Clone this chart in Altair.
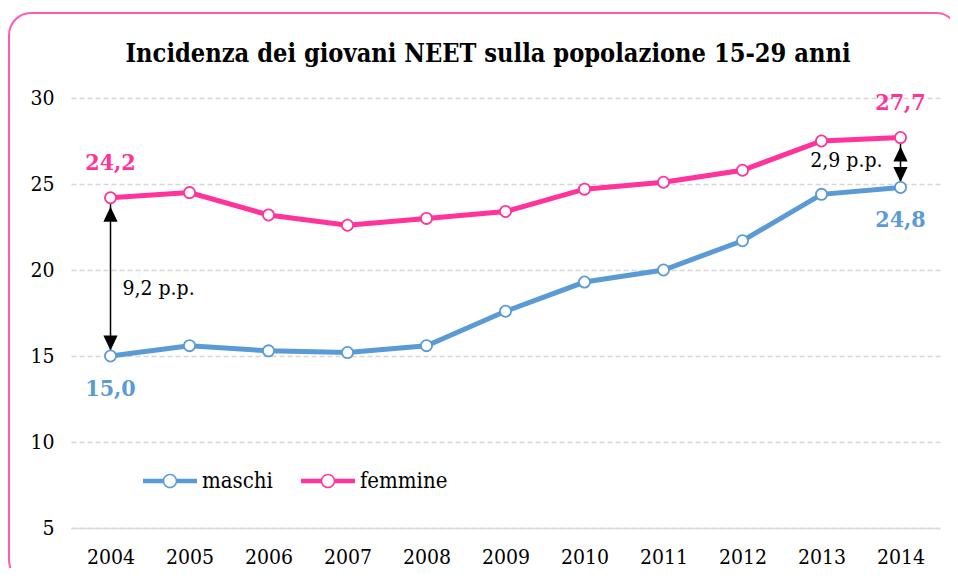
import altair as alt
import pandas as pd

years = [2004, 2005, 2006, 2007, 2008, 2009, 2010, 2011, 2012, 2013, 2014]
maschi = [15.0, 15.6, 15.3, 15.2, 15.6, 17.6, 19.3, 20.0, 21.7, 24.4, 24.8]
femmine = [24.2, 24.5, 23.2, 22.6, 23.0, 23.4, 24.7, 25.1, 25.8, 27.5, 27.7]
series_names = ["maschi", "femmine"]
series_colors = ["#5B9BD5", "#FF3399"]
y_ticks = [5, 10, 15, 20, 25, 30]
title_text = "Incidenza dei giovani NEET sulla popolazione 15-29 anni"

FONT = "DejaVu Serif Condensed, DejaVu Serif, serif"


def fmt(v):
    return f"{v:.1f}".replace(".", ",")


rows = []
for name, vals in zip(series_names, [maschi, femmine]):
    for yr, v in zip(years, vals):
        rows.append({"anno": str(yr), "serie": name, "valore": v, "etichetta": fmt(v)})
df = pd.DataFrame(rows)
ends = df[df["anno"].isin([str(years[0]), str(years[-1])])]

gap_rows = []
for i in [0, len(years) - 1]:
    f, m = femmine[i], maschi[i]
    gap_rows.append({"anno": str(years[i]), "alto": f, "basso": m,
                     "medio": (f + m) / 2, "testo": fmt(f - m) + " p.p."})
gaps = pd.DataFrame(gap_rows)

x_domain = [str(y) for y in years]
x_scale = alt.Scale(type="point", domain=x_domain, padding=0.5)
y_scale = alt.Scale(domain=[5, 30], nice=False, zero=False)
x_axis = alt.Axis(title=None, labelAngle=0, ticks=False, grid=False,
                  domainColor="#D9D9D9", domainWidth=1.5, labelPadding=18,
                  labelFont=FONT, labelFontSize=21, labelColor="black")
y_axis = alt.Axis(title=None, values=y_ticks, ticks=False, domain=False,
                  grid=True, gridColor="#D6D6D6", gridDash=[5, 3], gridWidth=1.3,
                  labelPadding=17, labelFont=FONT, labelFontSize=21, labelColor="black")


def X(field="anno"):
    return alt.X(f"{field}:O", scale=x_scale, axis=x_axis)


def Y(field):
    return alt.Y(f"{field}:Q", scale=y_scale, axis=y_axis)


# colour scale for the marks (data-driven, alphabetical domain: femmine, maschi)
mark_color_scale = alt.Scale(range=[series_colors[1], series_colors[0]])
# colour scale for the legend (explicit order: maschi, femmine)
legend_color_scale = alt.Scale(domain=series_names, range=series_colors)

UP = "M0,-1L0.95,1L-0.95,1Z"
DOWN = "M0,1L0.95,-1L-0.95,-1Z"
LEGEND_SYMBOL = ("M-1,-0.08L-0.23,-0.08L-0.23,0.08L-1,0.08Z "
                 "M0.23,-0.08L1,-0.08L1,0.08L0.23,0.08Z "
                 "M0.27,0A0.27,0.27 0 1,1 -0.27,0A0.27,0.27 0 1,1 0.27,0Z "
                 "M0.21,0A0.21,0.21 0 1,0 -0.21,0A0.21,0.21 0 1,0 0.21,0Z")

one = pd.DataFrame({"k": [0]})

border = alt.Chart(one).mark_rect(
    cornerRadius=22, fillOpacity=0, stroke="#FF5AB4", strokeWidth=2
).encode(x=alt.value(-62), x2=alt.value(887), y=alt.value(-85), y2=alt.value(484))

title = alt.Chart(one).mark_text(
    text=title_text, font=FONT, fontSize=25.2, fontWeight="bold", color="black",
    align="center", baseline="alphabetic"
).encode(x=alt.value(417), y=alt.value(-36))

rule = alt.Chart(gaps).mark_rule(color="black", strokeWidth=1.5).encode(
    x=X(), y=Y("basso"), y2="alto:Q")
head_up = alt.Chart(gaps).mark_point(
    shape=UP, filled=True, color="black", size=225, opacity=1, yOffset=16.5
).encode(x=X(), y=Y("alto"))
head_down = alt.Chart(gaps).mark_point(
    shape=DOWN, filled=True, color="black", size=225, opacity=1, yOffset=-13
).encode(x=X(), y=Y("basso"))

lines = alt.Chart(df).mark_line(strokeWidth=5).encode(
    x=X(), y=Y("valore"),
    color=alt.Color("serie:N", scale=mark_color_scale, legend=None),
    detail="serie:N")

points = alt.Chart(df).mark_point(
    shape="circle", fill="white", fillOpacity=1, strokeWidth=1.8, size=125, opacity=1
).encode(
    x=X(), y=Y("valore"),
    stroke=alt.Stroke("serie:N", scale=mark_color_scale, legend=None))

legend_layer = alt.Chart(df).mark_point(filled=True, size=0).encode(
    x=X(), y=Y("valore"),
    fill=alt.Fill("serie:N", scale=legend_color_scale, legend=alt.Legend(
        title=None, orient="none", legendX=72, legendY=356, direction="horizontal",
        symbolType=LEGEND_SYMBOL, symbolSize=2916, symbolOpacity=1,
        symbolStrokeWidth=0, labelFont=FONT, labelFontSize=22, labelColor="black",
        labelOffset=5, columnPadding=28, padding=0)))

lab_f = alt.Chart(ends).transform_filter(alt.datum.serie == "femmine").mark_text(
    font=FONT, fontSize=23, fontWeight="bold", dy=-35
).encode(x=X(), y=Y("valore"), text="etichetta:N",
         color=alt.Color("serie:N", scale=mark_color_scale, legend=None))
lab_m = alt.Chart(ends).transform_filter(alt.datum.serie == "maschi").mark_text(
    font=FONT, fontSize=23, fontWeight="bold", dy=33
).encode(x=X(), y=Y("valore"), text="etichetta:N",
         color=alt.Color("serie:N", scale=mark_color_scale, legend=None))

gap_left = alt.Chart(gaps).transform_filter(alt.datum.anno == str(years[0])).mark_text(
    font=FONT, fontSize=21, color="black", align="left", dx=12, dy=12
).encode(x=X(), y=Y("medio"), text="testo:N")
gap_right = alt.Chart(gaps).transform_filter(alt.datum.anno == str(years[-1])).mark_text(
    font=FONT, fontSize=21, color="black", align="right", dx=-18, dy=-2
).encode(x=X(), y=Y("medio"), text="testo:N")

chart = alt.layer(
    border, title, rule, head_up, head_down, lines, points, legend_layer,
    lab_f, lab_m, gap_left, gap_right
).properties(
    width=869, height=430,
    autosize=alt.AutoSizeParams(type="none"),
    padding={"left": 63, "top": 90, "right": 10, "bottom": 40},
    background="white",
).configure_view(stroke=None)

chart.save("out.html", embed_options={"renderer": "svg", "actions": False})
